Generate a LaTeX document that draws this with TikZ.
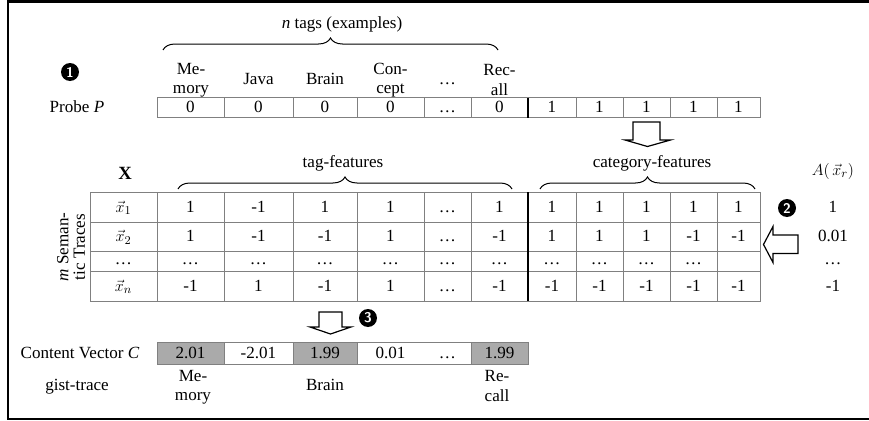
\documentclass[tikz,border=0pt]{standalone}
\usepackage{fontspec}
\setmainfont{Liberation Serif}
\usetikzlibrary{decorations.pathreplacing}
\definecolor{cellgray}{RGB}{170,170,170}
\definecolor{gridgray}{RGB}{128,128,128}
\tikzset{
  every node/.style={font=\fontsize{12.8}{14.3}\selectfont},
  cell/.style={inner sep=0.75pt, align=center},
  val/.style={inner sep=0.75pt, text height=10pt, text depth=2pt},
  gridline/.style={draw=gridgray, line width=0.75pt},
  sepline/.style={line width=1.9pt},
  tagbrace/.style={decorate, decoration={brace, amplitude=9pt}, line width=0.75pt},
  hollowarrow/.style={draw=black, fill=white, line width=0.9pt, line join=miter},
  numdot/.style={circle, fill=black, text=white, inner sep=0pt, minimum size=13.5pt, font=\sffamily\bfseries\fontsize{10.5}{11}\selectfont},
}
\begin{document}
\begin{tikzpicture}[x=0.75pt,y=0.75pt,yscale=-1,xscale=1]
\useasboundingbox (0,0) rectangle (869,421);

%Shape: Frame
\draw [line width=1.5pt] (869,1.5) -- (7.5,1.5) -- (7.5,418.5) -- (869,418.5) ;

% Text Node
\node (ntags) at (342,24) [cell] {\textit{n} tags (examples)};
%Shape: Brace
\draw [tagbrace] (163,50) -- (498,50) ;
% Text Node
\node (one) at (70,72) [numdot] {1};

% Text Node
\node (hmemory) at (191,80) [cell] {Me-\\mory};
\node (hjava) at (258.5,79) [val] {Java};
\node (hbrain) at (325,79) [val] {Brain};
\node (hconcept) at (390.5,80) [cell] {Con-\\cept};
\node (hdots) at (447.5,79) [val] {\dots};
\node (hrecall) at (499.5,80) [cell] {Rec-\\all};

%Shape: Probe row
\draw [gridline] (157,97.5) rectangle (760,117.5) (224,97.5) -- (224,117.5) (293,97.5) -- (293,117.5) (357,97.5) -- (357,117.5) (424,97.5) -- (424,117.5) (471,97.5) -- (471,117.5) (576,97.5) -- (576,117.5) (623,97.5) -- (623,117.5) (670,97.5) -- (670,117.5) (717,97.5) -- (717,117.5) ;
\draw [sepline] (528,97.5) -- (528,117.5) ;
% Text Node
\node (probe) at (77,107.5) [val] {Probe \textit{P}};
\node (p1) at (190.5,107.5) [val] {0};
\node (p2) at (258.5,107.5) [val] {0};
\node (p3) at (325,107.5) [val] {0};
\node (p4) at (390.5,107.5) [val] {0};
\node (p5) at (447.5,107.5) [val] {\dots};
\node (p6) at (499.5,107.5) [val] {0};
\node (p7) at (552,107.5) [val] {1};
\node (p8) at (599.5,107.5) [val] {1};
\node (p9) at (646.5,107.5) [val] {1};
\node (p10) at (693.5,107.5) [val] {1};
\node (p11) at (738.5,107.5) [val] {1};

%Shape: Down Arrow
\draw [hollowarrow] (633,122) -- (660,122) -- (660,140) -- (670.5,140) -- (647.5,146.5) -- (625,140) -- (633,140) -- cycle ;

% Text Node
\node (bigx) at (125,173) [cell, font=\fontsize{14}{15}\selectfont\bfseries] {X};
\node (tagfeat) at (343,162) [val] {tag-features};
\node (catfeat) at (652,162) [val] {category-features};
\node (activ) at (833,171) [cell] {$A(\,\vec{x}_r)$};
%Shape: Brace
\draw [tagbrace] (178,189) -- (512,189) ;
\draw [tagbrace] (540,189) -- (755,189) ;

%Shape: Table X
\draw [gridline] (90,192) rectangle (760,301) (90,222) -- (760,222) (90,251) -- (760,251) (90,271) -- (760,271) (157,192) -- (157,301) (224,192) -- (224,301) (293,192) -- (293,301) (357,192) -- (357,301) (424,192) -- (424,301) (471,192) -- (471,301) (576,192) -- (576,301) (623,192) -- (623,301) (670,192) -- (670,301) (717,192) -- (717,301) ;
\draw [sepline] (528,192) -- (528,301) ;
% Text Node
\node (traces) at (71,247) [cell, rotate=90, font=\fontsize{12.8}{12.3}\selectfont] {\textit{m} Seman-\\tic Traces};
% Row 1
\node (x1) at (123.5,207) [val] {$\vec{x}_1$};
\node (a1) at (190.5,207) [val] {1};
\node (a2) at (258.5,207) [val] {-1};
\node (a3) at (325,207) [val] {1};
\node (a4) at (390.5,207) [val] {1};
\node (a5) at (447.5,207) [val] {\dots};
\node (a6) at (499.5,207) [val] {1};
\node (a7) at (552,207) [val] {1};
\node (a8) at (599.5,207) [val] {1};
\node (a9) at (646.5,207) [val] {1};
\node (a10) at (693.5,207) [val] {1};
\node (a11) at (738.5,207) [val] {1};
% Row 2
\node (x2) at (123.5,236.5) [val] {$\vec{x}_2$};
\node (b1) at (190.5,236.5) [val] {1};
\node (b2) at (258.5,236.5) [val] {-1};
\node (b3) at (325,236.5) [val] {-1};
\node (b4) at (390.5,236.5) [val] {1};
\node (b5) at (447.5,236.5) [val] {\dots};
\node (b6) at (499.5,236.5) [val] {-1};
\node (b7) at (552,236.5) [val] {1};
\node (b8) at (599.5,236.5) [val] {1};
\node (b9) at (646.5,236.5) [val] {1};
\node (b10) at (693.5,236.5) [val] {-1};
\node (b11) at (738.5,236.5) [val] {-1};
% Row 3
\node (xdots) at (123.5,259) [val] {\dots};
\node (c1) at (190.5,259) [val] {\dots};
\node (c2) at (258.5,259) [val] {\dots};
\node (c3) at (325,259) [val] {\dots};
\node (c4) at (390.5,259) [val] {\dots};
\node (c5) at (447.5,259) [val] {\dots};
\node (c6) at (499.5,259) [val] {\dots};
\node (c7) at (552,259) [val] {\dots};
\node (c8) at (599.5,259) [val] {\dots};
\node (c9) at (646.5,259) [val] {\dots};
\node (c10) at (693.5,259) [val] {\dots};
% Row 4
\node (xn) at (123.5,286) [val] {$\vec{x}_n$};
\node (d1) at (190.5,286) [val] {-1};
\node (d2) at (258.5,286) [val] {1};
\node (d3) at (325,286) [val] {-1};
\node (d4) at (390.5,286) [val] {1};
\node (d5) at (447.5,286) [val] {\dots};
\node (d6) at (499.5,286) [val] {-1};
\node (d7) at (552,286) [val] {-1};
\node (d8) at (599.5,286) [val] {-1};
\node (d9) at (646.5,286) [val] {-1};
\node (d10) at (693.5,286) [val] {-1};
\node (d11) at (738.5,286) [val] {-1};

% Text Node
\node (two) at (787,208) [numdot] {2};
\node (act1) at (833,207) [val] {1};
\node (act2) at (833,236.5) [val] {0.01};
\node (actdots) at (833,259) [val] {\dots};
\node (actn) at (833,286) [val] {-1};
%Shape: Left Arrow
\draw [hollowarrow] (798,235) -- (798,253.5) -- (773,253.5) -- (773,262.5) -- (763.5,244.5) -- (773,226.5) -- (773,235) -- cycle ;

%Shape: Down Arrow
\draw [hollowarrow] (319,312) -- (342,312) -- (342,327) -- (351,327) -- (330.5,334) -- (310,327) -- (319,327) -- cycle ;
% Text Node
\node (three) at (368,318) [numdot] {3};

%Shape: Content row
\draw [gridline, fill=cellgray] (157,342) rectangle (224,364) ;
\draw [gridline, fill=cellgray] (293,342) rectangle (357,364) ;
\draw [gridline, fill=cellgray] (471,342) rectangle (528,364) ;
\draw [gridline] (157,342) rectangle (528,364) ;
% Text Node
\node (content) at (80,353) [val] {Content Vector \textit{C}};
\node (e1) at (190.5,353) [val] {2.01};
\node (e2) at (258.5,353) [val] {-2.01};
\node (e3) at (325,353) [val] {1.99};
\node (e4) at (390.5,353) [val] {0.01};
\node (e5) at (447.5,353) [val] {\dots};
\node (e6) at (499.5,353) [val] {1.99};
\node (gist) at (77,385) [val] {gist-trace};
\node (gmemory) at (193,387) [cell] {Me-\\mory};
\node (gbrain) at (325,385) [val] {Brain};
\node (grecall) at (497,386) [cell] {Re-\\call};

\end{tikzpicture}
\end{document}
